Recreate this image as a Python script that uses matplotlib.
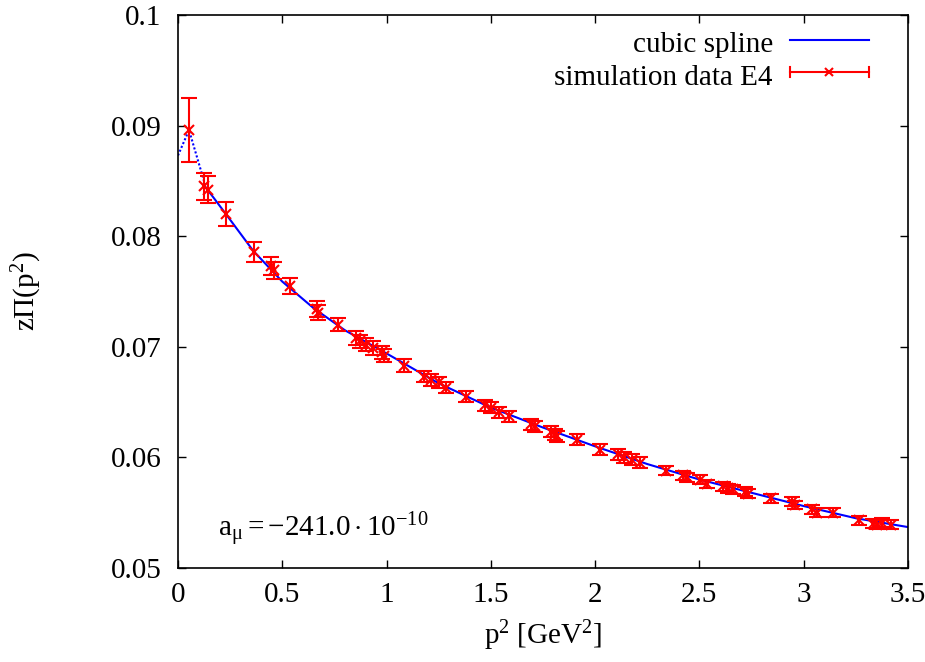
import matplotlib
matplotlib.use('Agg')
import matplotlib.pyplot as plt
from matplotlib.lines import Line2D

plt.rcParams['font.family'] = ['Liberation Serif', 'DejaVu Serif']
plt.rcParams['mathtext.fontset'] = 'custom'
plt.rcParams['mathtext.rm'] = 'Liberation Serif'
plt.rcParams['mathtext.it'] = 'Liberation Serif:italic'

# simulation data E4
p2 = [0.053, 0.125, 0.144, 0.230, 0.363, 0.446, 0.460, 0.537, 0.666, 0.672,
      0.767, 0.853, 0.872, 0.901, 0.935, 0.978, 0.988, 1.083, 1.179, 1.213,
      1.251, 1.285, 1.380, 1.470, 1.500, 1.540, 1.587, 1.692, 1.711, 1.788,
      1.807, 1.817, 1.913, 2.023, 2.109, 2.138, 2.176, 2.215, 2.339, 2.421,
      2.440, 2.502, 2.536, 2.613, 2.637, 2.661, 2.718, 2.732, 2.843, 2.943,
      2.958, 3.040, 3.063, 3.140, 3.265, 3.332, 3.350, 3.375, 3.418]
zpi = [0.0896, 0.0845, 0.0842, 0.0820, 0.0786, 0.0773, 0.0769, 0.0755, 0.0734, 0.0731,
       0.0720, 0.0708, 0.0705, 0.0702, 0.0699, 0.0695, 0.0692, 0.0683, 0.0673, 0.0670,
       0.0668, 0.0663, 0.0655, 0.0647, 0.0645, 0.0641, 0.0637, 0.0630, 0.0628, 0.0623,
       0.0621, 0.0619, 0.0616, 0.0607, 0.0603, 0.0600, 0.0598, 0.0595, 0.0588, 0.0584,
       0.0582, 0.0580, 0.0576, 0.0574, 0.0572, 0.0571, 0.0569, 0.0567, 0.0563, 0.0560,
       0.0557, 0.0553, 0.0550, 0.0550, 0.0543, 0.0540, 0.0539, 0.0541, 0.0539]
err = [0.0029, 0.0012, 0.0012, 0.0011, 0.0009, 0.0008, 0.0008, 0.0007, 0.0007, 0.0007,
       0.0006, 0.0006, 0.0006, 0.0006, 0.0006, 0.0006, 0.0006, 0.0006, 0.0005, 0.0005,
       0.0005, 0.0005, 0.0005, 0.0005, 0.0005, 0.0005, 0.0005, 0.0005, 0.0005, 0.0005,
       0.0005, 0.0005, 0.0005, 0.0005, 0.0005, 0.0005, 0.0005, 0.0005, 0.0004, 0.0004,
       0.0004, 0.0004, 0.0004, 0.0004, 0.0004, 0.0004, 0.0004, 0.0004, 0.0004, 0.0004,
       0.0004, 0.0004, 0.0004, 0.0004, 0.0004, 0.0004, 0.0004, 0.0004, 0.0004]

# cubic spline curve
spl_x = [0.0, 0.053, 0.134, 0.23, 0.36, 0.5, 0.65, 0.8, 1.0, 1.25, 1.5,
         1.75, 2.0, 2.25, 2.5, 2.75, 3.0, 3.25, 3.5]
spl_y = [0.0873, 0.0896, 0.0844, 0.0820, 0.0787, 0.0759, 0.0735, 0.0715, 0.0694,
         0.0667, 0.0645, 0.0627, 0.0610, 0.0594, 0.0580, 0.0568, 0.0556, 0.0545, 0.0537]

RED = '#ff0000'
BLUE = '#0000ff'
FS = 21


def main():
    fig = plt.figure(figsize=(9.25, 6.62), dpi=100)
    ax = fig.add_axes([0.1924, 0.142, 0.7892, 0.8353])

    # dotted extrapolation below the second point, solid afterwards
    ax.plot(spl_x[:3], spl_y[:3], color=BLUE, lw=1.5, ls=(0, (1, 1)))
    ax.plot(spl_x[2:], spl_y[2:], color=BLUE, lw=1.5)

    ax.errorbar(p2, zpi, yerr=err, fmt='x', color=RED, ms=7, mew=1.5,
                elinewidth=1.5, capsize=6, capthick=1.5)

    ax.set_xlim(0, 3.5)
    ax.set_ylim(0.05, 0.1)
    ax.set_xticks([0, 0.5, 1, 1.5, 2, 2.5, 3, 3.5])
    ax.set_xticklabels(['0', '0.5', '1', '1.5', '2', '2.5', '3', '3.5'])
    ax.set_yticks([0.05, 0.06, 0.07, 0.08, 0.09, 0.1])
    ax.set_yticklabels(['0.05', '0.06', '0.07', '0.08', '0.09', '0.1'])
    ax.tick_params(direction='in', length=6, width=1, top=True, right=True,
                   labelsize=FS, pad=10)
    ax.tick_params(axis='y', pad=12)
    for s in ax.spines.values():
        s.set_linewidth(1.2)

    ax.set_xlabel(r'p$^2$ [GeV$^2$]', fontsize=FS, labelpad=8)
    ax.set_ylabel(r'z$\Pi$(p$^2$)', fontsize=FS, labelpad=48)

    ax.text(0.055, 0.07, r'$\mathrm{a}_{\mathrm{\mu}} = -241.0 \cdot 10^{-10}$',
            transform=ax.transAxes, fontsize=FS, va='center', ha='left')

    # gnuplot style key, text right aligned with sample to its right
    tx = 0.815
    for yk, lab in [(0.945, 'cubic spline'), (0.887, 'simulation data E4')]:
        ax.text(tx, yk, lab, transform=ax.transAxes, fontsize=FS,
                ha='right', va='center')
    x0, x1 = 0.838, 0.946
    ax.add_line(Line2D([x0, x1], [0.9545, 0.9545], transform=ax.transAxes,
                       color=BLUE, lw=1.5))
    yk = 0.8965
    ax.add_line(Line2D([x0, x1], [yk, yk], transform=ax.transAxes,
                       color=RED, lw=1.5))
    for xc in (x0, x1):
        ax.add_line(Line2D([xc, xc], [yk - 0.009, yk + 0.009],
                           transform=ax.transAxes, color=RED, lw=1.5))
    ax.add_line(Line2D([(x0 + x1) / 2], [yk], transform=ax.transAxes,
                       color=RED, marker='x', ms=6, mew=1.5))

    fig.savefig('out.png', dpi=100)


if __name__ == '__main__':
    main()
